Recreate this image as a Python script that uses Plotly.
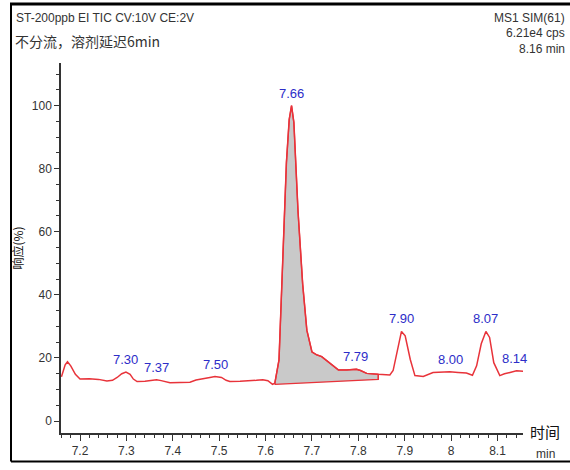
import numpy as np
import plotly.graph_objects as go

# ---- data ----
time_min = [7.160, 7.163, 7.168, 7.173, 7.180, 7.190, 7.200, 7.220, 7.240, 7.258, 7.270, 7.280,
            7.290, 7.299, 7.308, 7.315, 7.323, 7.340, 7.355, 7.365, 7.375, 7.394, 7.415, 7.437,
            7.450, 7.465, 7.480, 7.491, 7.505, 7.515, 7.523, 7.545, 7.566, 7.580, 7.594, 7.605,
            7.615, 7.620, 7.629, 7.638, 7.645, 7.651, 7.656, 7.661, 7.670, 7.680, 7.689, 7.700,
            7.710, 7.721, 7.739, 7.757, 7.775, 7.796, 7.805, 7.818, 7.843, 7.861, 7.868, 7.875,
            7.885, 7.893, 7.901, 7.912, 7.922, 7.940, 7.961, 7.980, 7.997, 8.015, 8.033, 8.046,
            8.055, 8.065, 8.075, 8.083, 8.092, 8.105, 8.115, 8.127, 8.141, 8.161]
response = [14.0, 15.2, 17.8, 18.8, 17.5, 14.8, 13.3, 13.4, 13.2, 12.7, 12.9, 13.8,
            15.0, 15.5, 14.8, 13.3, 12.5, 12.6, 12.9, 13.1, 12.8, 12.1, 12.2, 12.3,
            13.0, 13.3, 13.8, 14.1, 13.8, 12.9, 12.5, 12.6, 12.7, 12.9, 13.1, 12.8,
            11.6, 12.0, 19.4, 55.9, 82.0, 95.6, 100.0, 94.7, 66.4, 43.4, 28.8, 21.9,
            21.0, 20.4, 18.3, 16.2, 16.2, 16.4, 16.0, 15.1, 14.8, 14.6, 14.6, 16.0,
            22.5, 28.4, 27.0, 19.5, 14.4, 14.1, 15.4, 15.5, 15.6, 15.4, 15.2, 14.5,
            17.5, 24.5, 28.4, 26.5, 18.5, 14.4, 15.0, 15.4, 15.9, 15.7]

peak_labels = ["7.30", "7.37", "7.50", "7.66", "7.79", "7.90", "8.00", "8.07", "8.14"]
peak_times = [7.299, 7.365, 7.491, 7.656, 7.793, 7.893, 7.999, 8.075, 8.136]

# integrated peak (7.66) baseline
baseline_time = [7.620, 7.843]
baseline_resp = [11.6, 13.2]

y_ticks = [0, 20, 40, 60, 80, 100]
x_ticks = [7.2, 7.3, 7.4, 7.5, 7.6, 7.7, 7.8, 7.9, 8.0, 8.1]
x_tick_text = ["7.2", "7.3", "7.4", "7.5", "7.6", "7.7", "7.8", "7.9", "8", "8.1"]

# ---- build figure ----
t = np.array(time_min)
r = np.array(response)

mask = (t >= baseline_time[0]) & (t <= baseline_time[1])
end_val = float(np.interp(baseline_time[1], t, r))
fill_x = [baseline_time[0]] + list(t[mask]) + [baseline_time[1], baseline_time[1], baseline_time[0]]
fill_y = [baseline_resp[0]] + list(r[mask]) + [end_val, baseline_resp[1], baseline_resp[0]]

RED = "#e8333a"
BLUE = "#2d2dc8"
GREY = "#333333"

fig = go.Figure()
fig.add_trace(go.Scatter(x=fill_x, y=fill_y, fill="toself", fillcolor="#c9c9c9",
                         mode="lines", line=dict(color=RED, width=1.3), hoverinfo="skip"))
fig.add_trace(go.Scatter(x=time_min, y=response, mode="lines",
                         line=dict(color=RED, width=1.5), hoverinfo="skip"))

annotations = []
for lab, pt in zip(peak_labels, peak_times):
    annotations.append(dict(x=pt, y=float(np.interp(pt, t, r)), xref="x", yref="y",
                            text=lab, showarrow=False, yanchor="bottom", xanchor="center",
                            yshift=3, font=dict(family="Arial, Liberation Sans", size=13, color=BLUE)))

ML, MT, PW, PH = 61, 63, 462, 376


def px(xp):
    return (xp - ML) / PW


def py(yp):
    return (MT + PH - yp) / PH


annotations += [
    dict(x=px(14), y=py(17), xref="paper", yref="paper", text="ST-200ppb EI TIC CV:10V CE:2V",
         showarrow=False, xanchor="left", yanchor="middle",
         font=dict(family="Arial, Liberation Sans", size=12, color=GREY)),
    dict(x=px(13), y=py(41), xref="paper", yref="paper", text="不分流，溶剂延迟6min",
         showarrow=False, xanchor="left", yanchor="middle",
         font=dict(family="Noto Sans CJK SC, Arial", size=14, color=GREY)),
    dict(x=px(567), y=py(17), xref="paper", yref="paper", text="MS1 SIM(61)",
         showarrow=False, xanchor="right", yanchor="middle",
         font=dict(family="Arial, Liberation Sans", size=12, color=GREY)),
    dict(x=px(567), y=py(33), xref="paper", yref="paper", text="6.21e4 cps",
         showarrow=False, xanchor="right", yanchor="middle",
         font=dict(family="Arial, Liberation Sans", size=12, color=GREY)),
    dict(x=px(567), y=py(49), xref="paper", yref="paper", text="8.16 min",
         showarrow=False, xanchor="right", yanchor="middle",
         font=dict(family="Arial, Liberation Sans", size=12, color=GREY)),
    dict(x=px(545), y=py(437), xref="paper", yref="paper", text="时间",
         showarrow=False, xanchor="center", yanchor="middle",
         font=dict(family="Noto Sans CJK SC", size=15, color="#111111")),
    dict(x=px(545), y=py(460), xref="paper", yref="paper", text="min",
         showarrow=False, xanchor="center", yanchor="middle",
         font=dict(family="Arial, Liberation Sans", size=12, color=GREY)),
]

shapes = [
    dict(type="line", xref="paper", yref="paper", x0=px(10), x1=px(575), y0=py(3), y1=py(3),
         line=dict(color="black", width=3)),
    dict(type="line", xref="paper", yref="paper", x0=px(11), x1=px(11), y0=py(3), y1=py(468),
         line=dict(color="black", width=2)),
    dict(type="line", xref="paper", yref="paper", x0=px(11), x1=px(575), y0=py(468), y1=py(468),
         line=dict(color="black", width=2)),
    dict(type="line", xref="x", yref="y", x0=baseline_time[1], x1=baseline_time[1],
         y0=baseline_resp[1], y1=end_val, line=dict(color=RED, width=1.3)),
]

fig.update_layout(
    width=570, height=470,
    margin=dict(l=ML, r=570 - ML - PW, t=MT, b=470 - MT - PH),
    paper_bgcolor="white", plot_bgcolor="white",
    showlegend=False,
    annotations=annotations,
    shapes=shapes,
    font=dict(family="Arial, Liberation Sans", size=12, color=GREY),
)
fig.update_xaxes(range=[7.159, 8.155], tickvals=x_ticks, ticktext=x_tick_text,
                 showgrid=False, zeroline=False, showline=True, linecolor=GREY, linewidth=1.5,
                 ticks="outside", ticklen=6, tickwidth=1.2, tickcolor=GREY,
                 minor=dict(dtick=0.02, tick0=7.2, ticks="outside", ticklen=3, tickcolor=GREY, tickwidth=1),
                 tickfont=dict(size=12, color=GREY), fixedrange=True)
fig.update_yaxes(range=[-3.8, 113.5], tickvals=y_ticks,
                 showgrid=False, zeroline=False, showline=True, linecolor=GREY, linewidth=1.5,
                 ticks="outside", ticklen=5, tickwidth=1.2, tickcolor=GREY,
                 minor=dict(dtick=5, tick0=0, ticks="outside", ticklen=3, tickcolor=GREY, tickwidth=1),
                 tickfont=dict(size=12, color=GREY),
                 title=dict(text="响应(%)", font=dict(family="Noto Sans CJK SC", size=12, color="#111111"),
                            standoff=6),
                 fixedrange=True)

fig.write_html("out.html")
